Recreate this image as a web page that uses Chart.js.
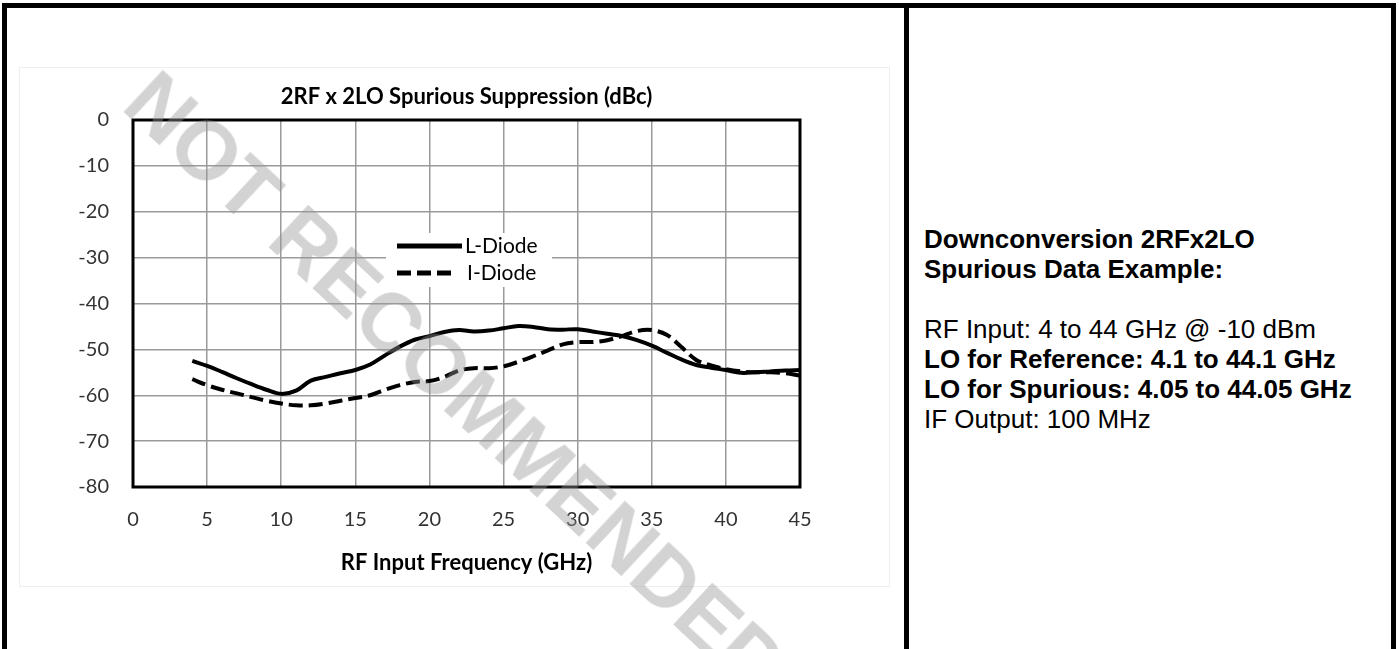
<!DOCTYPE html>
<html>
<head>
<meta charset="utf-8">
<title>2RF x 2LO Spurious Suppression</title>
<script src="https://cdn.jsdelivr.net/npm/chart.js@4/dist/chart.umd.min.js"></script>
<style>
  html, body { margin: 0; padding: 0; background: #fff; width: 1399px; height: 649px; overflow: hidden; }
  .frame { position: absolute; left: 2px; top: 3px; width: 1384px; height: 700px; border: 5px solid #000; border-bottom: none; }
  .divider { position: absolute; left: 904px; top: 3px; width: 5px; height: 700px; background: #000; }
  .chart-box { position: absolute; left: 20px; top: 68px; width: 868px; height: 518px; }
  .chart-edge { position: absolute; left: 19px; top: 67px; width: 869px; height: 518px; border: 1px solid #efefef; }
  .info { position: absolute; left: 924px; top: 224px; font-family: "Liberation Sans", Arial, sans-serif; font-size: 26px; line-height: 30px; color: #000; white-space: nowrap; }
  .info b { font-weight: bold; }
  .stamp { position: absolute; left: 456px; top: 383px; transform: translate(-50%, -50%) rotate(43deg);
    font-family: "Liberation Sans", Arial, sans-serif; font-weight: bold; font-size: 83px; line-height: 1;
    color: rgba(150, 150, 150, 0.42); white-space: nowrap; pointer-events: none; }
</style>
</head>
<body>
<div class="frame"></div>
<div class="divider"></div>
<div class="chart-edge"></div>
<div class="chart-box"><canvas id="spurChart" width="868" height="518"></canvas></div>
<div class="info">
  <b>Downconversion 2RFx2LO</b><br>
  <b>Spurious Data Example:</b><br>
  <br>
  RF Input: 4 to 44 GHz @ -10 dBm<br>
  <b>LO for Reference: 4.1 to 44.1 GHz</b><br>
  <b>LO for Spurious: 4.05 to 44.05 GHz</b><br>
  IF Output: 100 MHz
</div>
<div class="stamp">NOT RECOMMENDED</div>

<script>
// RF input frequency (GHz)
const freqs = [4, 5, 6, 7, 8, 9, 10, 11, 12, 13, 14, 15, 16, 17, 18, 19, 20, 21, 22, 23, 24,
  25, 26, 27, 28, 29, 30, 31, 32, 33, 34, 35, 36, 37, 38, 39, 40, 41, 42, 43, 44, 45];

// suppression (dBc)
const lDiode = [-52.5, -53.6, -54.9, -56.3, -57.6, -58.8, -59.7, -59.0, -56.8, -56.0, -55.2,
  -54.5, -53.3, -51.3, -49.4, -47.9, -47.1, -46.2, -45.8, -46.1, -45.9, -45.4, -44.9, -45.1,
  -45.6, -45.7, -45.6, -46.1, -46.6, -47.1, -48.0, -49.2, -50.7, -52.2, -53.4, -54.0, -54.5,
  -55.1, -55.0, -54.8, -54.6, -54.5];

const iDiode = [-56.5, -57.8, -58.8, -59.6, -60.4, -61.2, -61.8, -62.2, -62.2, -61.8, -61.2,
  -60.6, -60.0, -58.8, -57.8, -57.1, -56.9, -56.0, -54.6, -54.1, -54.1, -53.7, -52.7, -51.5,
  -50.2, -48.9, -48.4, -48.4, -48.0, -47.1, -46.0, -45.8, -46.8, -49.5, -52.3, -53.5, -54.3,
  -54.8, -55.0, -55.0, -55.2, -55.7];

const seriesNames = ["L-Diode", "I-Diode"];
const xTicks = [0, 5, 10, 15, 20, 25, 30, 35, 40, 45];
const yTicks = [0, -10, -20, -30, -40, -50, -60, -70, -80];

const toPoints = (vals) => vals.map((v, i) => ({ x: freqs[i], y: v }));

//Plot box + legend drawn inside the plot area
const boxAndLegend = {
  id: "boxAndLegend",
  afterDatasetsDraw(chart) {
    const { ctx, chartArea } = chart;
    ctx.save();
    ctx.strokeStyle = "#000";
    ctx.lineWidth = 3;
    ctx.strokeRect(chartArea.left, chartArea.top, chartArea.right - chartArea.left, chartArea.bottom - chartArea.top);

    // legend
    ctx.fillStyle = "#fff";
    ctx.fillRect(366, 165, 166, 54);
    ctx.font = "21px Lato";
    ctx.textBaseline = "middle";
    chart.data.datasets.forEach((ds, i) => {
      const y = 178 + i * 27;
      ctx.strokeStyle = "#000";
      ctx.lineWidth = 5;
      ctx.setLineDash(ds.borderDash || []);
      ctx.beginPath();
      ctx.moveTo(377, y);
      ctx.lineTo(i === 0 ? 442 : 437, y);
      ctx.stroke();
      ctx.setLineDash([]);
      ctx.fillStyle = "#000";
      ctx.fillText(ds.label, i === 0 ? 445 : 447, y);
    });
    ctx.restore();
  },
};

const spurData = {
  datasets: [
    {
      label: seriesNames[0],
      data: toPoints(lDiode),
      borderColor: "#000",
      borderWidth: 4,
      pointRadius: 0,
      tension: 0.35,
    },
    {
      label: seriesNames[1],
      data: toPoints(iDiode),
      borderColor: "#000",
      borderWidth: 4,
      borderDash: [14, 6],
      pointRadius: 0,
      tension: 0.35,
    },
  ],
};

const spurConfig = {
  type: "line",
  data: spurData,
  options: {
    responsive: false,
    animation: false,
    devicePixelRatio: 1,
    layout: { padding: { left: 0, right: 88, top: 0, bottom: 0 } },
    plugins: {
      legend: { display: false },
      tooltip: { enabled: false },
      title: {
        display: true,
        text: "2RF x 2LO Spurious Suppression (dBc)",
        fullSize: false,
        color: "#000",
        font: { family: "Lato", size: 22, weight: "bold", lineHeight: 1.2 },
        padding: { top: 16, bottom: 9.6 },
      },
    },
    scales: {
      x: {
        type: "linear",
        min: xTicks[0],
        max: xTicks[xTicks.length - 1],
        afterBuildTicks: (scale) => { scale.ticks = xTicks.map((v) => ({ value: v })); },
        afterFit: (scale) => { scale.height = 99; },
        grid: { color: "#9a9a9a", lineWidth: 1.5, drawTicks: false },
        border: { display: false },
        ticks: { color: "#333", font: { family: "Lato", size: 20 }, padding: 21, maxRotation: 0 },
        title: {
          display: true,
          text: "RF Input Frequency (GHz)",
          color: "#000",
          font: { family: "Lato", size: 22, weight: "bold" },
          padding: { top: 0, bottom: 10 },
        },
      },
      y: {
        min: yTicks[yTicks.length - 1],
        max: yTicks[0],
        afterBuildTicks: (scale) => { scale.ticks = yTicks.slice().reverse().map((v) => ({ value: v })); },
        afterFit: (scale) => { scale.width = 113; },
        grid: { color: "#9a9a9a", lineWidth: 1.5, drawTicks: false },
        border: { display: false },
        ticks: { color: "#333", font: { family: "Lato", size: 20 }, padding: 24 },
      },
    },
  },
  plugins: [boxAndLegend],
};

const spurChart = new Chart(document.getElementById("spurChart"), spurConfig);
console.log(spurChart.chartArea);
</script>
</body>
</html>
